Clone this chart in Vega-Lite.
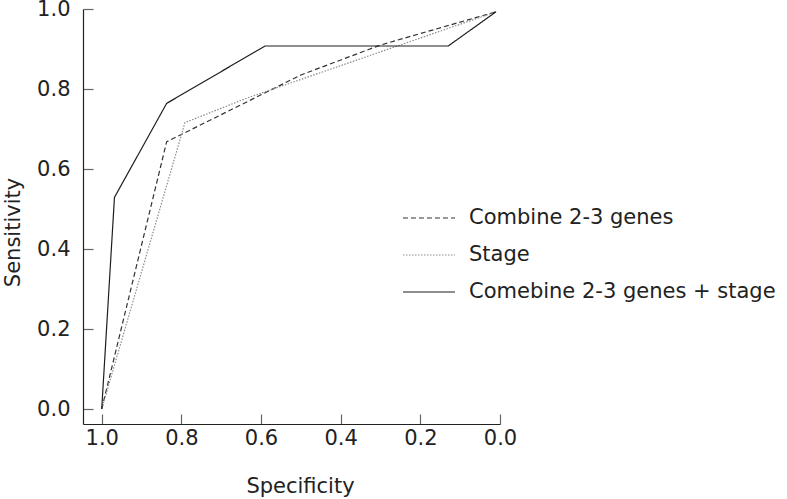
{
  "$schema": "https://vega.github.io/schema/vega-lite/v6.json",
  "width": 417,
  "height": 415,
  "autosize": {"type": "none"},
  "padding": {"left": 83, "top": 9, "right": 287, "bottom": 75},
  "background": "white",
  "config": {
    "view": {"stroke": null}, "font": "DejaVu Sans",
    "legend": {
      "orient": "none", "legendX": 319, "legendY": 182, "title": null,
      "symbolType": "stroke", "symbolSize": 2704, "symbolStrokeWidth": 1.2,
      "labelFontSize": 21, "labelColor": "#222", "labelOffset": 13, "rowPadding": -16, "labelLimit": 400
    }
  },
  "data": {
    "values": [
      {"series": "Combine 2-3 genes", "i": 1, "specificity": 1.0, "sensitivity": 0.0},
      {"series": "Combine 2-3 genes", "i": 2, "specificity": 0.837, "sensitivity": 0.668},
      {"series": "Combine 2-3 genes", "i": 3, "specificity": 0.5, "sensitivity": 0.835},
      {"series": "Combine 2-3 genes", "i": 4, "specificity": 0.3, "sensitivity": 0.91},
      {"series": "Combine 2-3 genes", "i": 5, "specificity": 0.01, "sensitivity": 0.993},
      {"series": "Stage", "i": 1, "specificity": 1.0, "sensitivity": 0.0},
      {"series": "Stage", "i": 2, "specificity": 0.791, "sensitivity": 0.716},
      {"series": "Stage", "i": 3, "specificity": 0.636, "sensitivity": 0.777},
      {"series": "Stage", "i": 4, "specificity": 0.01, "sensitivity": 0.993},
      {"series": "Comebine 2-3 genes + stage", "i": 1, "specificity": 1.0, "sensitivity": 0.0},
      {"series": "Comebine 2-3 genes + stage", "i": 2, "specificity": 0.968, "sensitivity": 0.529},
      {"series": "Comebine 2-3 genes + stage", "i": 3, "specificity": 0.837, "sensitivity": 0.764},
      {"series": "Comebine 2-3 genes + stage", "i": 4, "specificity": 0.59, "sensitivity": 0.9075},
      {"series": "Comebine 2-3 genes + stage", "i": 5, "specificity": 0.13, "sensitivity": 0.9075},
      {"series": "Comebine 2-3 genes + stage", "i": 6, "specificity": 0.01, "sensitivity": 0.993}
    ]
  },
  "mark": {"type": "line", "strokeWidth": 1.2},
  "encoding": {
    "x": {
      "field": "specificity", "type": "quantitative",
      "scale": {"domain": [1.047, 0], "nice": false, "zero": false},
      "axis": {
        "values": [1, 0.8, 0.6, 0.4, 0.2, 0], "format": ".1f", "grid": false,
        "domainColor": "#222", "domainWidth": 1.2, "tickColor": "#666", "tickWidth": 1.2, "tickSize": -10,
        "labelFontSize": 21, "labelColor": "#222", "labelPadding": 13, "labelFlush": false,
        "title": "Specificity", "titleFontSize": 21, "titleFontWeight": "normal", "titleColor": "#222",
        "titleX": 217, "titleY": 62, "titleBaseline": "middle", "titleAlign": "center"
      }
    },
    "y": {
      "field": "sensitivity", "type": "quantitative",
      "scale": {"domain": [-0.0375, 1], "nice": false, "zero": false},
      "axis": {
        "values": [0, 0.2, 0.4, 0.6, 0.8, 1], "format": ".1f", "grid": false,
        "domainColor": "#222", "domainWidth": 1.2, "tickColor": "#666", "tickWidth": 1.2, "tickSize": -10,
        "labelFontSize": 21, "labelColor": "#222", "labelPadding": 23, "labelFlush": false,
        "title": "Sensitivity", "titleFontSize": 21, "titleFontWeight": "normal", "titleColor": "#222",
        "titleX": -70, "titleY": 223, "titleBaseline": "middle", "titleAlign": "center", "titleAngle": -90
      }
    },
    "order": {"field": "i", "type": "quantitative"},
    "color": {
      "field": "series", "type": "nominal",
      "scale": {"domain": ["Combine 2-3 genes", "Stage", "Comebine 2-3 genes + stage"], "range": ["#333333", "#8a8a8a", "#1e1e1e"]}
    },
    "strokeDash": {
      "field": "series", "type": "nominal",
      "scale": {"domain": ["Combine 2-3 genes", "Stage", "Comebine 2-3 genes + stage"], "range": [[5, 3], [1.5, 1.5], [1, 0]]}
    }
  }
}
